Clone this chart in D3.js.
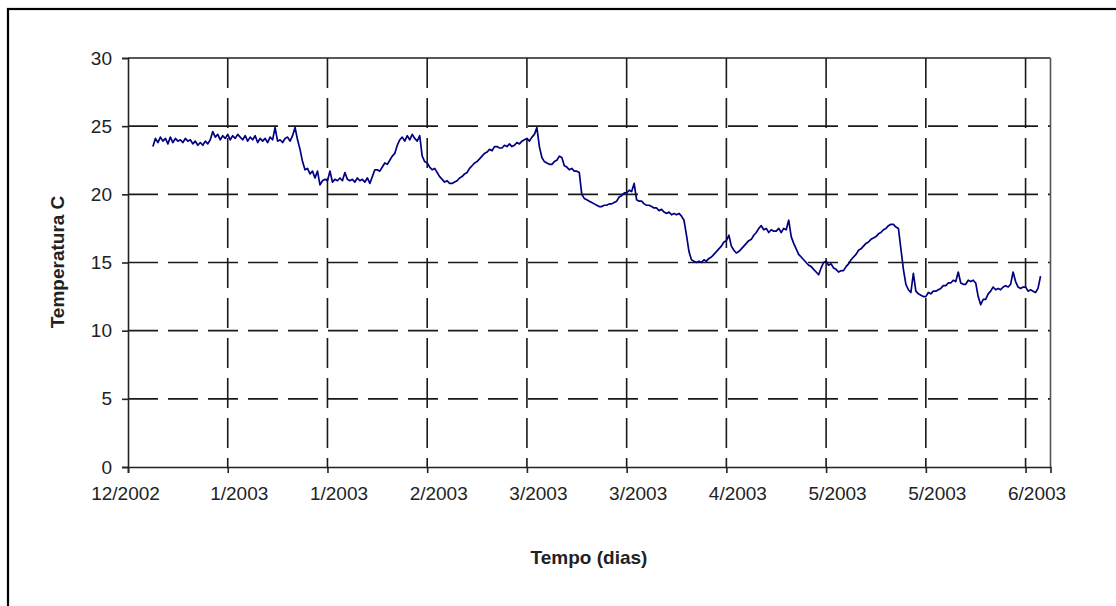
<!DOCTYPE html>
<html>
<head>
<meta charset="utf-8">
<script src="https://cdn.jsdelivr.net/npm/d3@7"></script>
<style>
  html, body { margin: 0; padding: 0; background: #ffffff; }
  svg { display: block; }
  text { font-family: "Liberation Sans", Arial, sans-serif; fill: #222; }
</style>
</head>
<body>
<svg id="chart" width="1116" height="606"></svg>
<script>
// ---- data ----
const startDate = new Date(2002, 11, 15);   // origin of the time axis
const firstSampleDay = 5;                    // first reading (days after origin)
const sampleStepDays = 0.5;                  // one reading every 12 hours
const temps = [
  23.5,24.1,23.8,24.2,23.9,24.1,23.7,24.2,23.8,24.1,
  23.9,24.0,23.8,24.1,23.9,24.0,23.7,23.9,23.6,23.8,
  23.6,23.9,23.7,24.0,24.6,24.2,24.4,24.0,24.3,24.1,
  24.4,24.0,24.3,24.1,24.4,24.2,24.0,24.3,23.9,24.2,
  24.0,24.3,23.8,24.1,23.9,24.1,23.8,24.2,24.0,24.9,
  23.9,24.0,23.8,24.1,24.2,23.9,24.3,24.9,24.0,23.3,
  22.4,21.8,21.9,21.5,21.7,21.2,21.7,20.7,21.0,21.1,
  21.0,21.7,20.9,21.1,21.0,21.2,21.0,21.6,21.1,21.0,
  21.1,20.9,21.2,21.0,21.1,20.9,21.2,20.8,21.3,21.8,
  21.8,21.7,22.0,22.3,22.2,22.5,22.8,23.0,23.6,24.0,
  24.2,23.9,24.3,24.0,24.4,24.1,23.9,24.3,22.8,22.4,
  22.3,22.0,21.8,21.9,21.6,21.3,21.1,20.9,21.0,20.8,
  20.8,20.9,21.0,21.2,21.3,21.5,21.6,21.9,22.1,22.3,
  22.4,22.6,22.8,23.0,23.1,23.3,23.2,23.5,23.5,23.4,
  23.4,23.6,23.5,23.7,23.5,23.6,23.8,23.7,23.9,24.0,
  24.1,23.9,24.2,24.4,24.9,23.5,22.7,22.4,22.3,22.2,
  22.2,22.4,22.5,22.8,22.7,22.1,22.0,21.8,21.9,21.7,
  21.7,21.6,20.0,19.7,19.6,19.5,19.4,19.3,19.2,19.1,
  19.1,19.2,19.2,19.3,19.3,19.4,19.5,19.8,19.9,20.1,
  20.1,20.3,20.2,20.8,19.6,19.5,19.5,19.3,19.2,19.2,
  19.1,19.0,19.0,18.8,18.9,18.7,18.6,18.7,18.5,18.6,
  18.5,18.6,18.4,18.1,17.0,15.8,15.2,15.1,15.0,15.1,
  15.0,15.2,15.1,15.3,15.4,15.6,15.8,16.0,16.2,16.5,
  16.6,17.0,16.2,15.9,15.7,15.8,16.0,16.2,16.4,16.6,
  16.7,17.0,17.2,17.5,17.7,17.4,17.5,17.2,17.4,17.3,
  17.3,17.5,17.2,17.5,17.4,18.1,16.9,16.4,16.0,15.6,
  15.4,15.2,15.0,14.8,14.7,14.5,14.3,14.1,14.6,15.0,
  15.1,14.8,14.9,14.6,14.5,14.3,14.4,14.4,14.7,14.9,
  15.2,15.4,15.6,15.9,16.0,16.2,16.4,16.5,16.7,16.8,
  16.9,17.1,17.2,17.4,17.5,17.7,17.8,17.8,17.6,17.5,
  16.0,14.5,13.4,13.0,12.8,14.2,12.9,12.7,12.6,12.5,
  12.5,12.8,12.7,12.9,12.9,13.0,13.1,13.3,13.3,13.5,
  13.5,13.7,13.6,14.3,13.5,13.4,13.4,13.7,13.6,13.7,
  13.5,12.5,11.9,12.3,12.3,12.7,12.9,13.2,13.0,13.1,
  13.0,13.2,13.3,13.2,13.4,14.3,13.6,13.2,13.1,13.2,
  13.2,12.9,13.0,12.9,12.8,13.1,14.0
];
const xTickStepDays = 20;
const xTickLabels = ["12/2002","1/2003","1/2003","2/2003","3/2003","3/2003","4/2003","5/2003","5/2003","6/2003"];
const yTicks = [0, 5, 10, 15, 20, 25, 30];
const axisEndDays = 185;
const yTitle = "Temperatura C";
const xTitle = "Tempo (dias)";

// ---- layout ----
const svg = d3.select("#chart");
const L = 128, R = 1050.5, T = 58, B = 467;

svg.append("rect").attr("x", 0).attr("y", 0).attr("width", 1116).attr("height", 606).attr("fill", "#fff");
// outer frame (extends past right/bottom edges)
svg.append("rect").attr("x", 8).attr("y", 9).attr("width", 1200).attr("height", 700)
  .attr("fill", "none").attr("stroke", "#000").attr("stroke-width", 2.2);

const x = d3.scaleTime()
  .domain([startDate, d3.timeHour.offset(startDate, axisEndDays * 24)])
  .range([L, R]);
const y = d3.scaleLinear().domain([0, 30]).range([B, T]);

const tickDates = xTickLabels.map((_, i) => d3.timeDay.offset(startDate, i * xTickStepDays));

// gridlines
const grid = svg.append("g");
grid.selectAll("line.h").data(yTicks.filter(v => v > 0 && v < 30)).join("line")
  .attr("x1", L).attr("x2", R).attr("y1", d => y(d)).attr("y2", d => y(d))
  .attr("stroke", "#1a1a1a").attr("stroke-width", 1.6).attr("stroke-dasharray", "30,10");
grid.selectAll("line.v").data(tickDates.slice(1)).join("line")
  .attr("x1", d => x(d)).attr("x2", d => x(d)).attr("y1", T).attr("y2", B)
  .attr("stroke", "#1a1a1a").attr("stroke-width", 1.6).attr("stroke-dasharray", "30,10");

// frame top/right
svg.append("line").attr("x1", L).attr("x2", R).attr("y1", T).attr("y2", T)
  .attr("stroke", "#222").attr("stroke-width", 1.6);
svg.append("line").attr("x1", R).attr("x2", R).attr("y1", T).attr("y2", B)
  .attr("stroke", "#555").attr("stroke-width", 1.6);

// axes
const yAxis = d3.axisLeft(y).tickValues(yTicks).tickSize(6).tickPadding(10).tickFormat(d3.format("d"));
const gy = svg.append("g").attr("transform", `translate(${L},0)`).call(yAxis);
gy.select(".domain").attr("stroke", "#222").attr("stroke-width", 1.6);
gy.selectAll(".tick line").attr("stroke", "#222").attr("stroke-width", 1.6);
gy.selectAll(".tick text").attr("font-size", 19).attr("fill", "#222")
  .style("font-family", "'Liberation Sans', Arial, sans-serif");

const xAxis = d3.axisBottom(x).tickValues(tickDates).tickSize(6).tickPadding(14)
  .tickFormat((d, i) => xTickLabels[i]);
const gx = svg.append("g").attr("transform", `translate(0,${B})`).call(xAxis);
gx.select(".domain").attr("stroke", "#222").attr("stroke-width", 1.6);
gx.selectAll(".tick line").attr("stroke", "#222").attr("stroke-width", 1.6);
gx.selectAll(".tick text").attr("font-size", 19).attr("fill", "#222")
  .attr("dx", (d, i) => i === 0 ? -3 : 11)
  .style("font-family", "'Liberation Sans', Arial, sans-serif");

// series
const series = temps.map((t, i) => ({
  date: d3.timeHour.offset(startDate, (firstSampleDay + i * sampleStepDays) * 24),
  value: t
}));
svg.append("path").datum(series)
  .attr("fill", "none").attr("stroke", "#000080").attr("stroke-width", 1.7)
  .attr("stroke-linejoin", "round")
  .attr("d", d3.line().x(d => x(d.date)).y(d => y(d.value)));

// titles
svg.append("text").attr("transform", `translate(64,262) rotate(-90)`)
  .attr("text-anchor", "middle").attr("font-size", 19).attr("font-weight", "bold").text(yTitle);
svg.append("text").attr("x", 589).attr("y", 564)
  .attr("text-anchor", "middle").attr("font-size", 19).attr("font-weight", "bold").text(xTitle);
</script>
</body>
</html>
